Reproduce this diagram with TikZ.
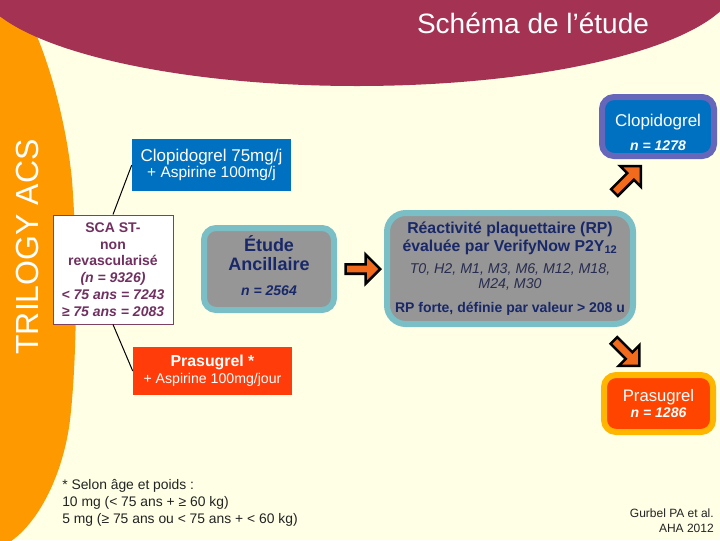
\documentclass[tikz,border=0pt]{standalone}
\usepackage{fontspec}
\setmainfont{Liberation Sans}
\usetikzlibrary{shapes.arrows}
\definecolor{bg}{RGB}{255,255,230}
\definecolor{crimson}{RGB}{163,50,83}
\definecolor{orangeband}{RGB}{255,153,0}
\definecolor{boxblue}{RGB}{0,112,192}
\definecolor{boxred}{RGB}{255,60,10}
\definecolor{resred}{RGB}{255,68,0}
\definecolor{grayfill}{RGB}{150,150,150}
\definecolor{tealborder}{RGB}{122,190,198}
\definecolor{navy}{RGB}{25,40,105}
\definecolor{ital}{RGB}{40,45,80}
\definecolor{plum}{RGB}{112,48,96}
\definecolor{plumborder}{RGB}{128,64,96}
\definecolor{purpleb}{RGB}{102,102,187}
\definecolor{amber}{RGB}{255,182,0}
\definecolor{arroworange}{RGB}{242,106,27}
\definecolor{notegray}{RGB}{35,35,35}
\newcommand{\fsz}[2]{\fontsize{#1}{#2}\selectfont}
\begin{document}
\begin{tikzpicture}[x=0.75pt,y=-0.75pt,
  conn/.style={draw=black, line width=0.75pt},
  barrow/.style={single arrow, draw=black, line width=1.9pt, fill=arroworange,
    inner xsep=0pt, inner ysep=2.6pt, single arrow head extend=7.4pt,
    minimum height=#1},
  flatbox/.style={inner sep=0pt, align=center, text=white},
  rbox/.style={rounded corners=9pt, line width=4.5pt, inner sep=0pt, align=center}
]
\useasboundingbox (0,0) rectangle (720,540);
\fill[bg] (0,0) rectangle (720,540);
\begin{scope}
  \clip (0,0) rectangle (720,540);
  \fill[orangeband] (0,-10) -- (10,-10) .. controls (35,15) and (64,100) .. (72,180)
     .. controls (78,260) and (77,360) .. (70,420)
     .. controls (64,470) and (40,525) .. (5,545) -- (0,545) -- cycle;
  \fill[crimson] (357,-20) ellipse [x radius=380, y radius=106];
\end{scope}

% title and side label
\node[text=white, font=\fsz{21}{25}, anchor=base] (title) at (533,33) {Schéma de l’étude};
\node[text=white, font=\fsz{24}{28}, rotate=90, anchor=base] (trilogy) at (38,247) {TRILOGY ACS};

% left boxes
\node[flatbox, fill=boxblue, minimum width=119.25pt, minimum height=39pt, font=\fsz{12.75}{12.5}] (clopi) at (211.5,165)
  {{\fsz{12.75}{12.5}Clopidogrel 75mg/j}\\{\fsz{11.6}{12.5}+ Aspirine 100mg/j}};
\node[flatbox, fill=boxred, minimum width=119.25pt, minimum height=36pt, font=\fsz{11.9}{12.75}] (prasu) at (212.5,371)
  {{\fsz{11.9}{12.75}\bfseries Prasugrel *}\\{\fsz{10.6}{12.75}+ Aspirine 100mg/jour}};
\node[draw=plumborder, line width=0.75pt, fill=white, minimum width=90pt, minimum height=81.75pt, inner sep=0pt,
  align=center, text=plum, font=\fsz{10.5}{12.6}\bfseries] (sca) at (113,269.5)
  {SCA ST-\\non\\revascularisé\\{\itshape (n = 9326)}\\{\itshape < 75 ans = 7243}\\{\itshape ≥ 75 ans = 2083}};

% central boxes
\node[rbox, draw=tealborder, fill=grayfill, minimum width=97.5pt, minimum height=61.5pt, text=navy, font=\fsz{13.5}{14.25}] (etude) at (269,269)
  {{\fsz{13.5}{14.25}\bfseries Étude}\\{\fsz{13.5}{14.25}\bfseries Ancillaire}\\[4.15pt]{\fsz{10.5}{14.25}\bfseries\itshape n = 2564}\\[-9pt]};
\node[rbox, rounded corners=14pt, draw=tealborder, fill=grayfill, minimum width=184.5pt, minimum height=83.25pt, text=navy, font=\fsz{10.65}{11.25}] (reac) at (510,268.5)
  {{\fsz{11.85}{11.25}\bfseries Réactivité plaquettaire (RP)}\\[2.25pt]
   {\fsz{11.85}{11.25}\bfseries évaluée par VerifyNow P2Y\textsubscript{12}}\\[5.55pt]
   {\fsz{10.65}{11.25}\itshape\color{ital}T0, H2, M1, M3, M6, M12, M18,}\\
   {\fsz{10.65}{11.25}\itshape\color{ital}M24, M30}\\[6.75pt]
   {\fsz{10.5}{11.25}\bfseries RP forte, définie par valeur > 208 u}};

% result boxes
\node[rbox, draw=purpleb, fill=boxblue, minimum width=84pt, minimum height=44.25pt] (clopiR) at (658,126.5) {};
\node[text=white, align=center, inner sep=0pt, font=\fsz{12.75}{18}] (clopiRT) at (658,132)
  {{\fsz{12.75}{18}Clopidogrel}\\{\fsz{10.5}{18}\bfseries\itshape n = 1278}};
\node[rbox, draw=amber, fill=resred, minimum width=81.75pt, minimum height=42.75pt, text=white, font=\fsz{12.5}{12}] (prasuR) at (658.5,403.5)
  {{\fsz{12.5}{12}Prasugrel}\\{\fsz{10.5}{12}\bfseries\itshape n = 1286}};

% connectors
\draw[conn] (sca.north) -- (clopi.west);
\draw[conn] (sca.south) -- (prasu.west);

% block arrows
\node[barrow=26pt] (arrH) at (360.5,269) {};
\node[barrow=28pt, rotate=45] (arrUp) at (626,181) {};
\node[barrow=27pt, rotate=-45] (arrDn) at (625,351.5) {};

% notes
\node[anchor=base west, align=left, inner sep=0pt, text=notegray, font=\fsz{10.4}{12.4}] (note) at (62,523)
  {* Selon âge et poids :\\10 mg (< 75 ans + ≥ 60 kg)\\5 mg (≥ 75 ans ou < 75 ans + < 60 kg)};
\node[anchor=base east, align=right, inner sep=0pt, text=notegray, font=\fsz{9}{11.25}] (ref) at (714,532)
  {Gurbel PA et al.\\AHA 2012};
\end{tikzpicture}
\end{document}
